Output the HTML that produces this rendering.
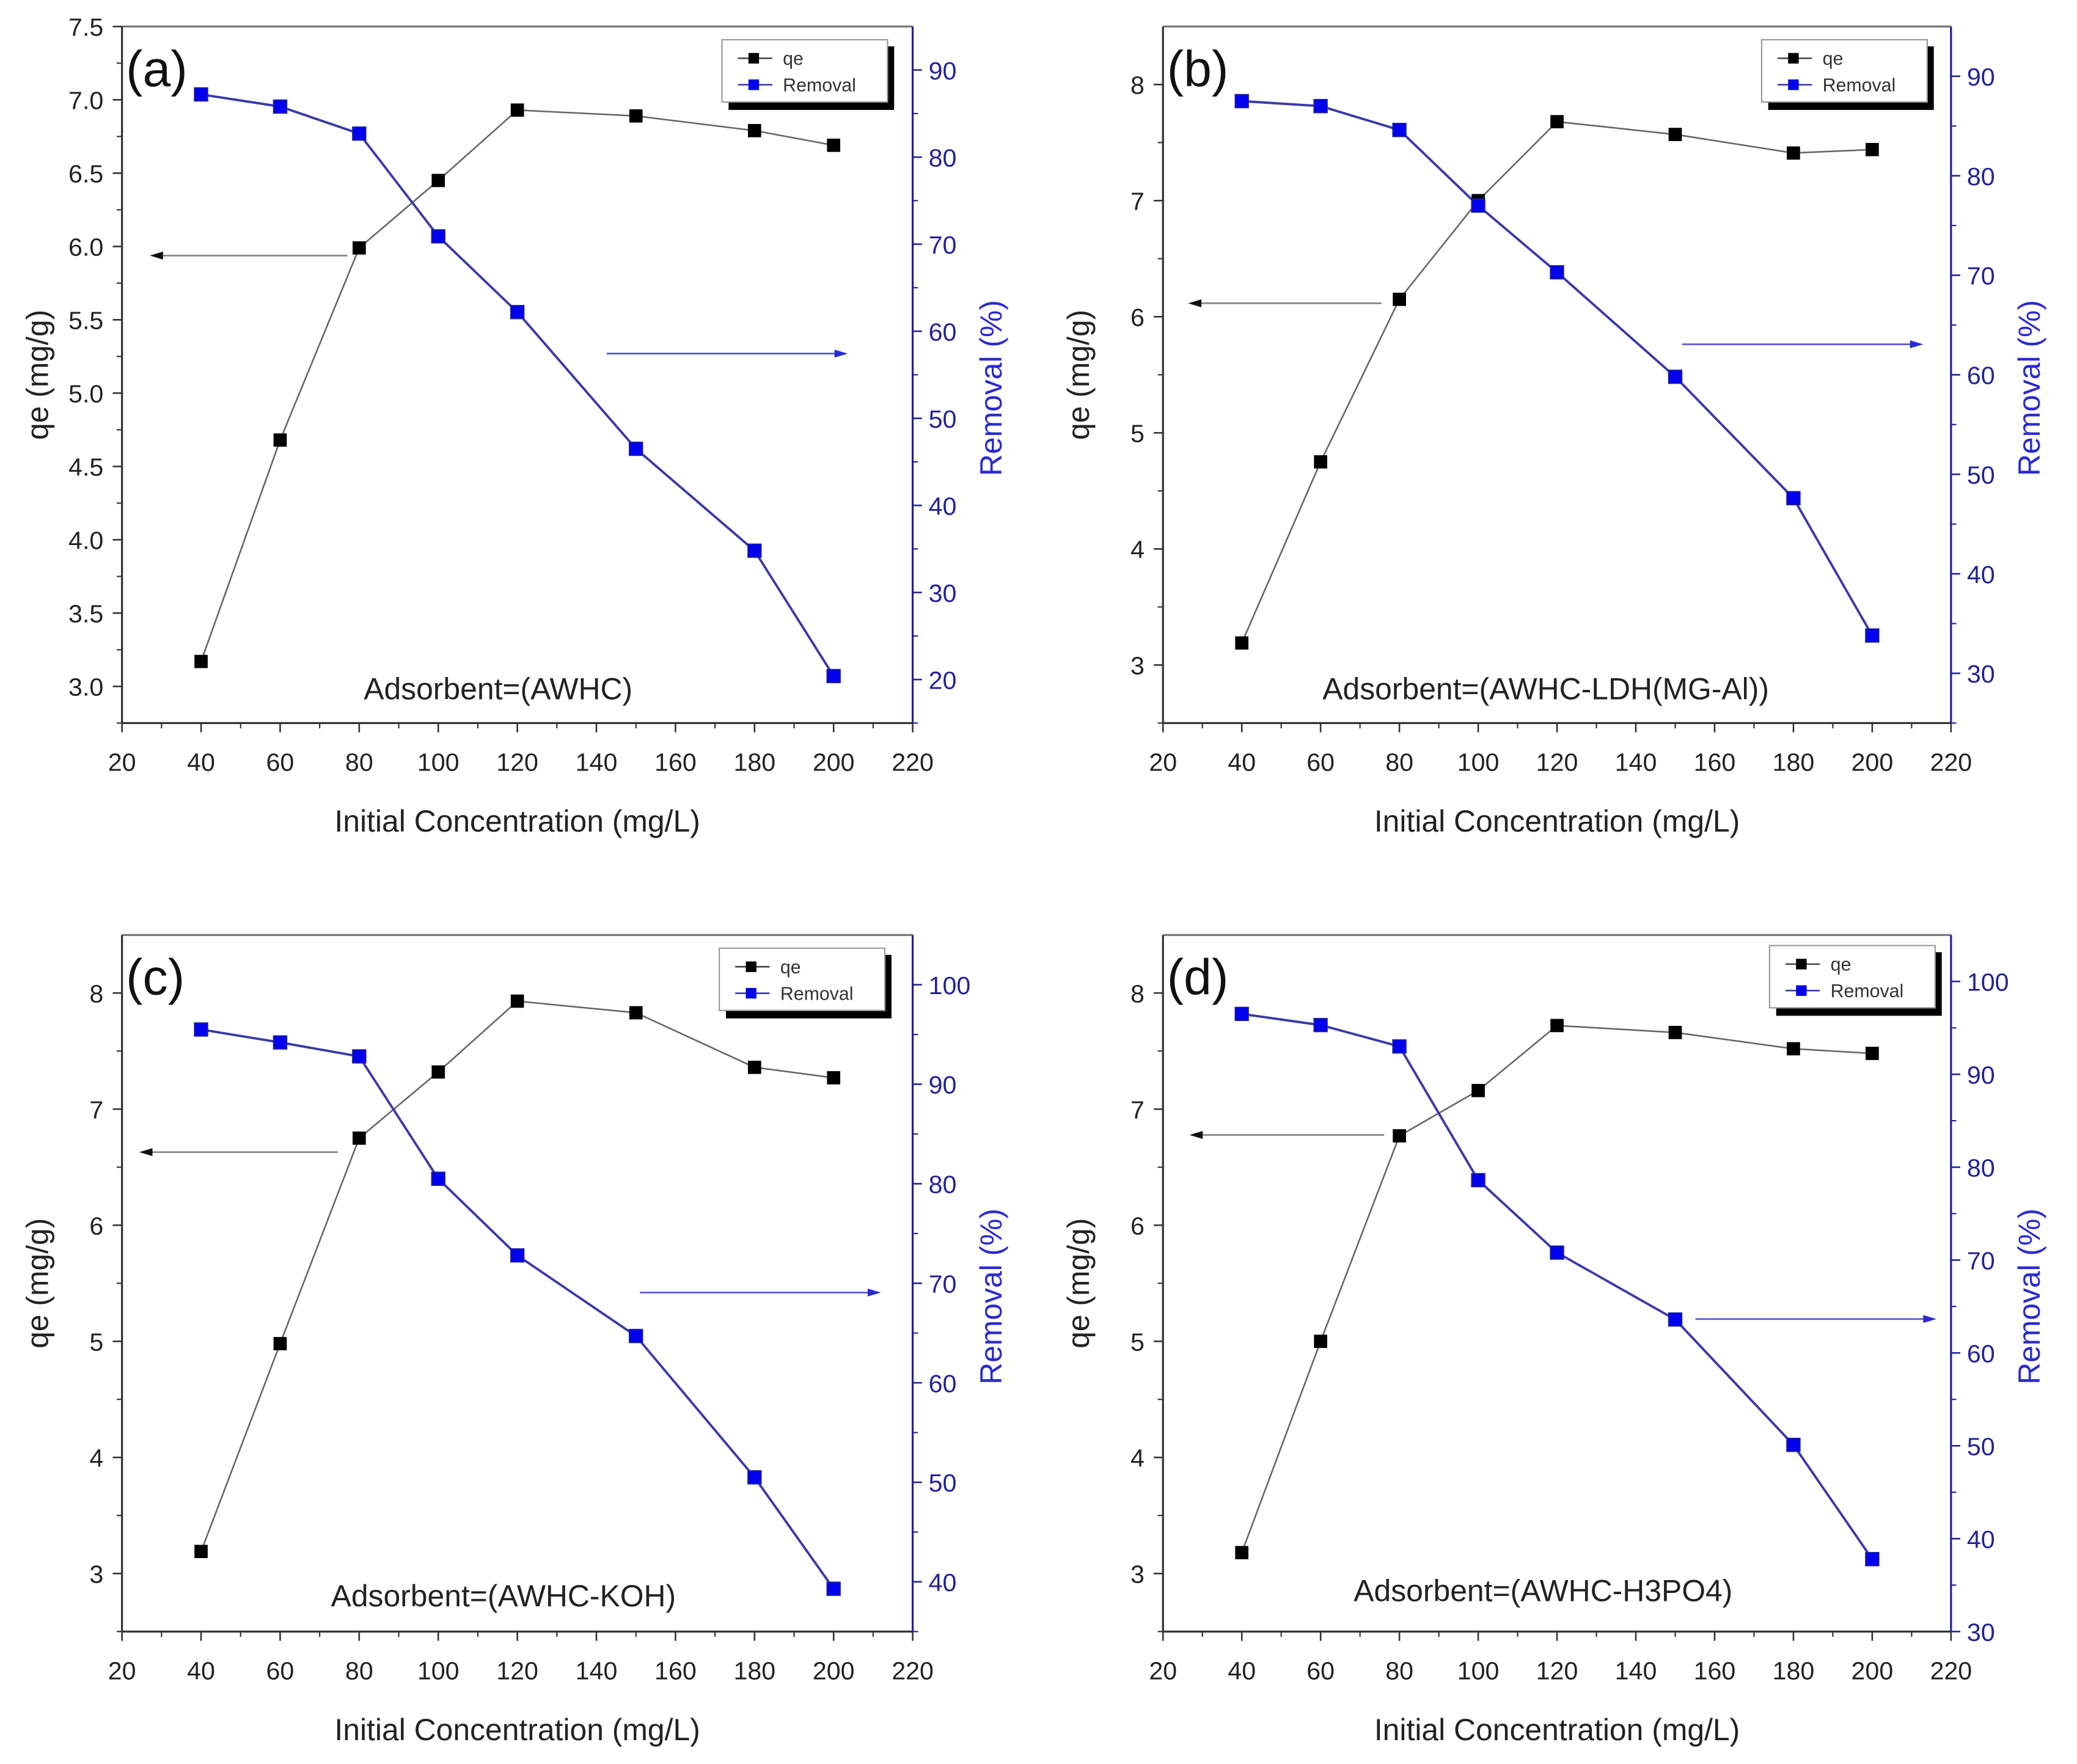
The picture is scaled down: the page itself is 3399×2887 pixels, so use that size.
<!DOCTYPE html>
<html><head><meta charset="utf-8"><style>
body{margin:0;background:#fff}
svg{display:block;font-family:"Liberation Sans",Arial,sans-serif}
</style></head><body>
<svg id="fig" width="3399" height="2887" viewBox="0 0 1568 1332" xmlns="http://www.w3.org/2000/svg"></svg>
<script>
const categories = [40, 60, 80, 100, 120, 150, 180, 200];
const qeA = [3.17, 4.68, 5.99, 6.45, 6.93, 6.89, 6.79, 6.69];
const remA = [87.2, 85.8, 82.7, 70.9, 62.2, 46.5, 34.8, 20.4];
const qeB = [3.19, 4.75, 6.15, 7.0, 7.68, 7.57, 7.41, 7.44];
const remB = [87.5, 87.0, 84.6, 77.0, 70.3, 59.8, 47.6, 33.8];
const qeC = [3.19, 4.98, 6.75, 7.32, 7.93, 7.83, 7.36, 7.27];
const remC = [95.5, 94.2, 92.8, 80.5, 72.8, 64.7, 50.5, 39.3];
const qeD = [3.18, 5.0, 6.77, 7.16, 7.72, 7.66, 7.52, 7.48];
const remD = [96.5, 95.3, 93.0, 78.6, 70.8, 63.6, 50.1, 37.8];
const xTicks = [20, 40, 60, 80, 100, 120, 140, 160, 180, 200, 220];
const leftTicksA = [3.0, 3.5, 4.0, 4.5, 5.0, 5.5, 6.0, 6.5, 7.0, 7.5];
const rightTicksA = [20, 30, 40, 50, 60, 70, 80, 90];
const leftTicksB = [3, 4, 5, 6, 7, 8];
const rightTicksB = [30, 40, 50, 60, 70, 80, 90];
const rightTicksC = [40, 50, 60, 70, 80, 90, 100];
const rightTicksD = [30, 40, 50, 60, 70, 80, 90, 100];

const NS = "http://www.w3.org/2000/svg";
const svg = document.getElementById("fig");
function mk(tag, attrs, parent, text){
  const e = document.createElementNS(NS, tag);
  for (const k in attrs) e.setAttribute(k, attrs[k]);
  if (text !== undefined) e.textContent = text;
  parent.appendChild(e); return e;
}

const panels = [
  {id:"a", x0:92, x1:689, y0:20, y1:546, lmin:2.75, lmax:7.5, rmin:15, rmax:95, qe:qeA, rem:remA, lt:leftTicksA, rt:rightTicksA, dec:1, label:"Adsorbent=(AWHC)", lab:[376,520], ba:[262,113,193], bb:[458,640,267], lg:[545,30]},
  {id:"b", x0:878, x1:1473, y0:20, y1:546, lmin:2.5, lmax:8.5, rmin:25, rmax:95, qe:qeB, rem:remB, lt:leftTicksB, rt:rightTicksB, dec:0, label:"Adsorbent=(AWHC-LDH(MG-Al))", lab:[1167,520], ba:[1043,897,229], bb:[1270,1452,260], lg:[1330,30]},
  {id:"c", x0:92, x1:689, y0:706, y1:1232, lmin:2.5, lmax:8.5, rmin:35, rmax:105, qe:qeC, rem:remC, lt:leftTicksB, rt:rightTicksC, dec:0, label:"Adsorbent=(AWHC-KOH)", lab:[380,1205], ba:[255,105,870], bb:[483,665,976], lg:[543,716]},
  {id:"d", x0:878, x1:1473, y0:706, y1:1232, lmin:2.5, lmax:8.5, rmin:30, rmax:105, qe:qeD, rem:remD, lt:leftTicksB, rt:rightTicksD, dec:0, label:"Adsorbent=(AWHC-H3PO4)", lab:[1165,1201], ba:[1045,898,857], bb:[1280,1462,996], lg:[1336,714]}
];

panels.forEach(p => {
  const g = mk("g", {}, svg);
  
  
  const X = v => p.x0 + (v - 20) / 200 * (p.x1 - p.x0);
  const YL = v => p.y1 - (v - p.lmin) / (p.lmax - p.lmin) * (p.y1 - p.y0);
  const YR = v => p.y1 - (v - p.rmin) / (p.rmax - p.rmin) * (p.y1 - p.y0);
  // frame
  mk("line", {x1:p.x0, y1:p.y0, x2:p.x1, y2:p.y0, stroke:"#777", "stroke-width":1.5}, g);
  const xa = mk("line", {x1:p.x0, y1:p.y1, x2:p.x1, y2:p.y1, stroke:"#333", "stroke-width":1.5}, g);
  
  
  const la = mk("line", {x1:p.x0, y1:p.y0, x2:p.x0, y2:p.y1, stroke:"#333", "stroke-width":1.5}, g);
  
  
  const ra = mk("line", {x1:p.x1, y1:p.y0, x2:p.x1, y2:p.y1, stroke:"#22229a", "stroke-width":1.5}, g);
  
  
  // x ticks
  xTicks.forEach((t, i) => {
    const x = X(t);
    mk("line", {x1:x, y1:p.y1, x2:x, y2:p.y1 + 7, stroke:"#333", "stroke-width":1.2}, g);
    if (i < xTicks.length - 1) { const xm = X(t + 10); mk("line", {x1:xm, y1:p.y1, x2:xm, y2:p.y1 + 4, stroke:"#333", "stroke-width":1}, g); }
    const tl = mk("text", {x:x, y:p.y1 + 36, "font-size":19, "text-anchor":"middle", fill:"#222"}, g, String(t));
    
    
  });
  // left ticks
  const lstep = p.lt[1] - p.lt[0];
  p.lt.forEach(t => {
    const y = YL(t);
    mk("line", {x1:p.x0 - 7, y1:y, x2:p.x0, y2:y, stroke:"#333", "stroke-width":1.2}, g);
    const ym = YL(t - lstep / 2);
    if (ym <= p.y1) mk("line", {x1:p.x0 - 4, y1:ym, x2:p.x0, y2:ym, stroke:"#333", "stroke-width":1}, g);
    const tl = mk("text", {x:p.x0 - 14, y:y + 7, "font-size":19, "text-anchor":"end", fill:"#222"}, g, t.toFixed(p.dec));
    
    
  });
  // right ticks
  p.rt.forEach(t => {
    const y = YR(t);
    mk("line", {x1:p.x1, y1:y, x2:p.x1 + 7, y2:y, stroke:"#22229a", "stroke-width":1.2}, g);
    const ym = YR(t - 5);
    if (ym <= p.y1) mk("line", {x1:p.x1, y1:ym, x2:p.x1 + 4, y2:ym, stroke:"#22229a", "stroke-width":1}, g);
    const tl = mk("text", {x:p.x1 + 12, y:y + 7, "font-size":19, fill:"#22229a"}, g, String(t));
    
    
  });
  // titles
  const cx = (p.x0 + p.x1) / 2, cy = (p.y0 + p.y1) / 2;
  const xt = mk("text", {x:cx, y:p.y1 + 82, "font-size":23, "text-anchor":"middle", fill:"#222"}, g, "Initial Concentration (mg/L)");
  
  
  const yt = mk("text", {x:0, y:0, "font-size":23, "text-anchor":"middle", fill:"#222", transform:`translate(${p.x0 - 56},${cy}) rotate(-90)`}, g, "qe (mg/g)");
  
  
  const rt = mk("text", {x:0, y:0, "font-size":23, "text-anchor":"middle", fill:"#2a2ad0", transform:`translate(${p.x1 + 67},${cy + 10}) rotate(-90)`}, g, "Removal (%)");
  
  
  // panel label
  const pl = mk("text", {x:p.x0 + 3, y:p.y0 + 45, "font-size":38, fill:"#111"}, g, "(" + p.id + ")");
  
  
  const al = mk("text", {x:p.lab[0], y:p.lab[1] + 8, "font-size":23, "text-anchor":"middle", fill:"#222"}, g, p.label);
  
  
  // arrows
  mk("line", {x1:p.ba[0], y1:p.ba[2], x2:p.ba[1] + 8, y2:p.ba[2], stroke:"#888", "stroke-width":1.3}, g);
  const ah = mk("polygon", {points:`${p.ba[1]},${p.ba[2]} ${p.ba[1]+10},${p.ba[2]-3} ${p.ba[1]+10},${p.ba[2]+3}`, fill:"#111"}, g);
  
  
  mk("line", {x1:p.bb[0], y1:p.bb[2], x2:p.bb[1] - 8, y2:p.bb[2], stroke:"#5a5ad0", "stroke-width":1.3}, g);
  const bh = mk("polygon", {points:`${p.bb[1]},${p.bb[2]} ${p.bb[1]-10},${p.bb[2]-3} ${p.bb[1]-10},${p.bb[2]+3}`, fill:"#2a2ad0"}, g);
  
  
  // series lines
  const qPts = categories.map((c, i) => X(c) + "," + YL(p.qe[i])).join(" ");
  const rPts = categories.map((c, i) => X(c) + "," + YR(p.rem[i])).join(" ");
  const ql = mk("polyline", {points:qPts, fill:"none", stroke:"#666", "stroke-width":1.2}, g);
  
  
  const rl = mk("polyline", {points:rPts, fill:"none", stroke:"#3a3aa8", "stroke-width":1.8}, g);
  
  
  categories.forEach((c, i) => {
    const q = mk("rect", {x:X(c) - 5, y:YL(p.qe[i]) - 5, width:10, height:10, fill:"#000"}, g);
    
    
    const r = mk("rect", {x:X(c) - 5, y:YR(p.rem[i]) - 5, width:10, height:10, fill:"#0000ee", stroke:"#22229a", "stroke-width":0.8}, g);
    
    
  });
  // legend
  const lx = p.lg[0], ly = p.lg[1];
  const lgG = mk("g", {}, g);
  
  
  mk("rect", {x:lx + 5, y:ly + 5, width:125, height:48, fill:"#000"}, lgG);
  mk("rect", {x:lx, y:ly, width:125, height:47, fill:"#fff", stroke:"#999", "stroke-width":1}, lgG);
  mk("line", {x1:lx + 12, y1:ly + 14, x2:lx + 38, y2:ly + 14, stroke:"#444", "stroke-width":1.2}, lgG);
  mk("rect", {x:lx + 20, y:ly + 10, width:8, height:8, fill:"#000"}, lgG);
  mk("text", {x:lx + 46, y:ly + 19, "font-size":14, fill:"#333"}, lgG, "qe");
  mk("line", {x1:lx + 12, y1:ly + 34, x2:lx + 38, y2:ly + 34, stroke:"#3a3aa8", "stroke-width":1.2}, lgG);
  mk("rect", {x:lx + 20, y:ly + 30, width:8, height:8, fill:"#0000ee"}, lgG);
  mk("text", {x:lx + 46, y:ly + 39, "font-size":14, fill:"#333"}, lgG, "Removal");
});
</script>
</body></html>
